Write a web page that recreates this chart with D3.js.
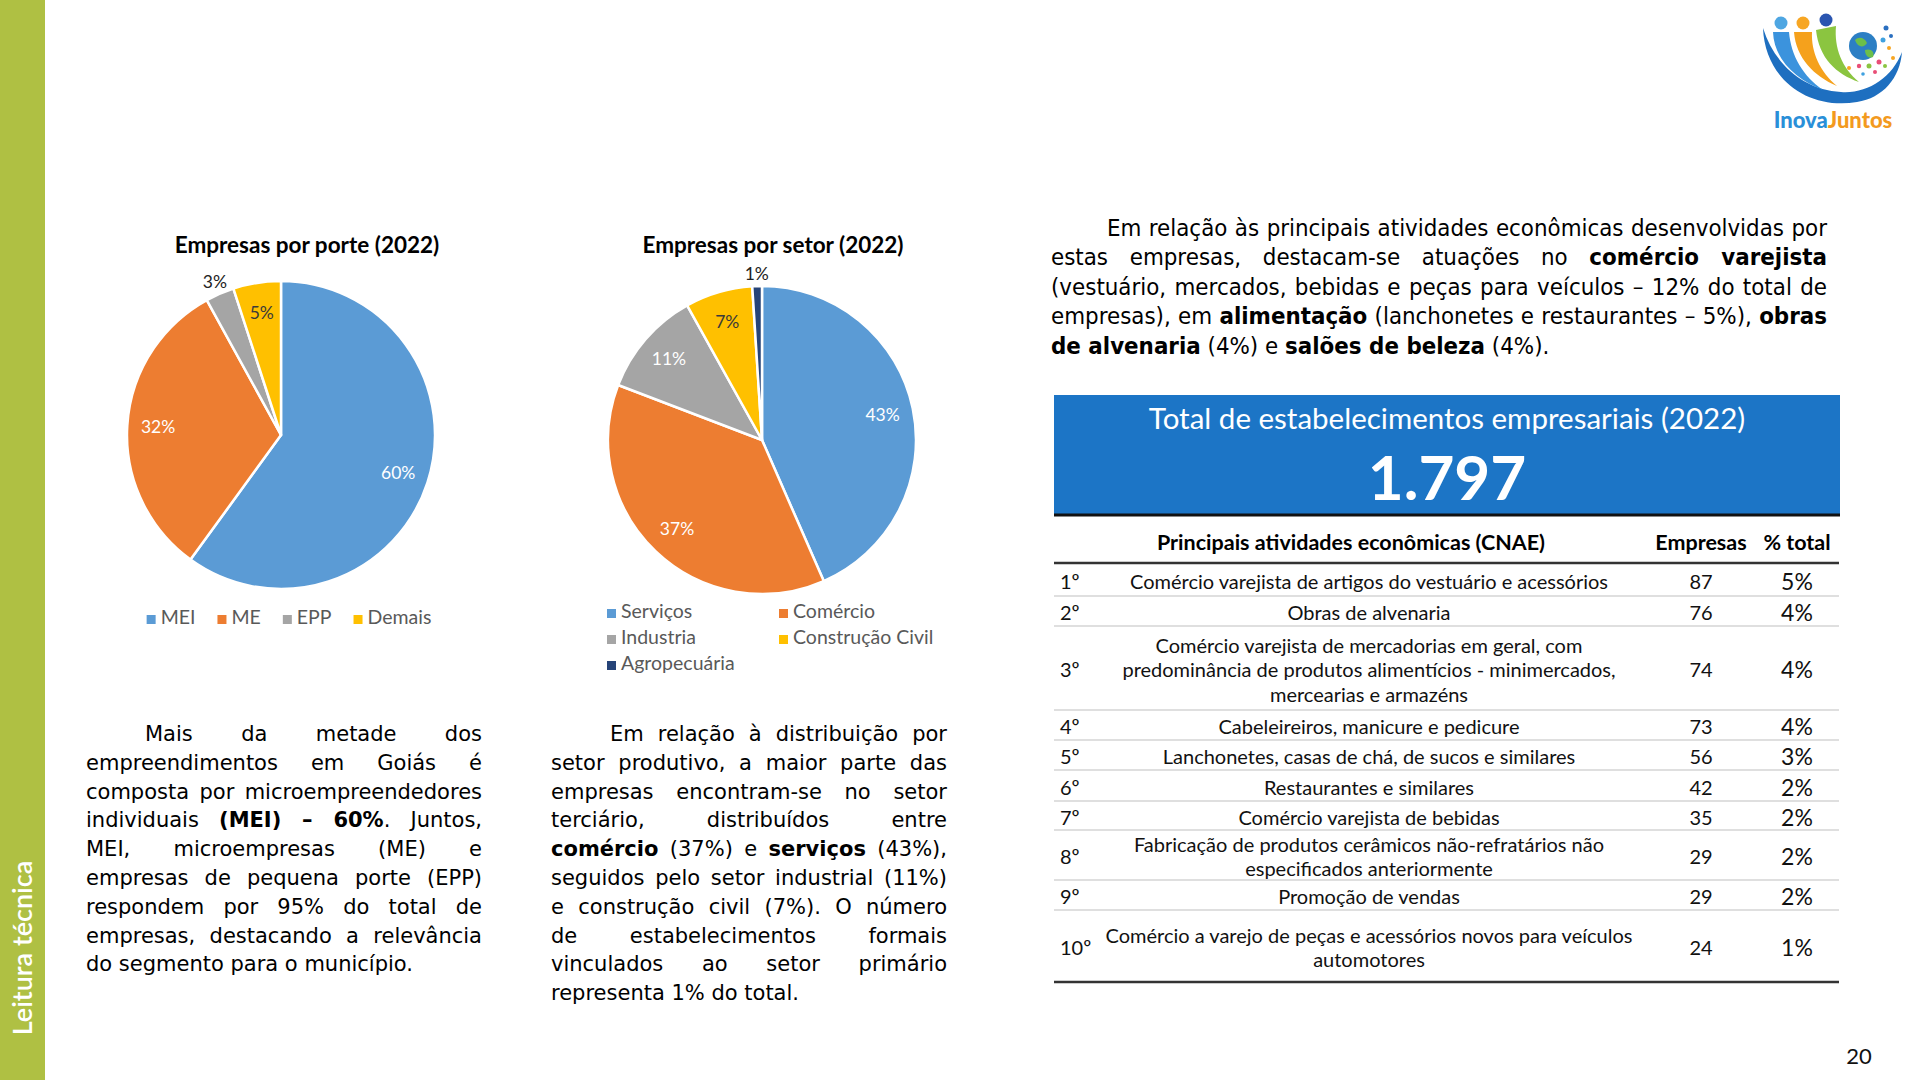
<!DOCTYPE html>
<html><head><meta charset="utf-8">
<script src="https://cdn.jsdelivr.net/npm/d3@7"></script>
<style>
html,body{margin:0;padding:0;background:#fff;}
#root{position:relative;width:1920px;height:1080px;overflow:hidden;background:#fff;}
svg{position:absolute;left:0;top:0;}
.para{position:absolute;color:#000;}
.para .ln{white-space:nowrap;text-align:justify;text-align-last:justify;}
.para .ln.last{text-align-last:left;text-align:left;}
.verd{font-family:"DejaVu Sans",Verdana,sans-serif;font-size:21px;line-height:28.8px;}
.cond{font-family:"DejaVu Sans",Verdana,sans-serif;font-size:23px;line-height:29.4px;}
</style></head><body><div id="root"></div>
<script>
// ---------------- DATA ----------------
const porteTitle = "Empresas por porte (2022)";
const porteCategories = ["MEI", "ME", "EPP", "Demais"];
const porteValues = [60, 32, 3, 5];

const setorTitle = "Empresas por setor (2022)";
const setorCategories = ["Serviços", "Comércio", "Industria", "Construção Civil", "Agropecuária"];
const setorValues = [43, 37, 11, 7, 1];

const totalTitle = "Total de estabelecimentos empresariais (2022)";
const totalValue = "1.797";

const tableHeaders = ["Principais atividades econômicas (CNAE)", "Empresas", "% total"];
const rankLabels = ["1º","2º","3º","4º","5º","6º","7º","8º","9º","10º"];
const activityLines = [
  ["Comércio varejista de artigos do vestuário e acessórios"],
  ["Obras de alvenaria"],
  ["Comércio varejista de mercadorias em geral, com","predominância de produtos alimentícios - minimercados,","mercearias e armazéns"],
  ["Cabeleireiros, manicure e pedicure"],
  ["Lanchonetes, casas de chá, de sucos e similares"],
  ["Restaurantes e similares"],
  ["Comércio varejista de bebidas"],
  ["Fabricação de produtos cerâmicos não-refratários não","especificados anteriormente"],
  ["Promoção de vendas"],
  ["Comércio a varejo de peças e acessórios novos para veículos","automotores"]
];
const empresasCounts = [87, 76, 74, 73, 56, 42, 35, 29, 29, 24];
const pctTotal = ["5%","4%","4%","4%","3%","2%","2%","2%","2%","1%"];

const para1Lines = [
  "Mais da metade dos",
  "empreendimentos em Goiás é",
  "composta por microempreendedores",
  "individuais <b>(MEI) – 60%</b>. Juntos,",
  "MEI, microempresas (ME) e",
  "empresas de pequena porte (EPP)",
  "respondem por 95% do total de",
  "empresas, destacando a relevância",
  "do segmento para o município."
];
const para2Lines = [
  "Em relação à distribuição por",
  "setor produtivo, a maior parte das",
  "empresas encontram-se no setor",
  "terciário, distribuídos entre",
  "<b>comércio</b> (37%) e <b>serviços</b> (43%),",
  "seguidos pelo setor industrial (11%)",
  "e construção civil (7%). O número",
  "de estabelecimentos formais",
  "vinculados ao setor primário",
  "representa 1% do total."
];
const para3Lines = [
  "Em relação às principais atividades econômicas desenvolvidas por",
  "estas empresas, destacam-se atuações no <b>comércio varejista</b>",
  "(vestuário, mercados, bebidas e peças para veículos – 12% do total de",
  "empresas), em <b>alimentação</b> (lanchonetes e restaurantes – 5%), <b>obras</b>",
  "<b>de alvenaria</b> (4%) e <b>salões de beleza</b> (4%)."
];
const sideLabel = "Leitura técnica";
const pageNumber = "20";

// ---------------- LAYOUT / STYLE ----------------
const W = 1920, H = 1080;
const pieColors = ["#5b9bd5", "#ed7d31", "#a5a5a5", "#ffc000", "#264478"];
const rowHeights = [33, 30, 84, 30, 30, 31, 29, 50, 30, 72];

const root = d3.select("#root");
const svg = root.append("svg").attr("width", W).attr("height", H);

// side bar
svg.append("rect").attr("x", 0).attr("y", 0).attr("width", 45).attr("height", H).attr("fill", "#afc043");
svg.append("text").attr("transform", "translate(32,948) rotate(-90)")
  .attr("text-anchor", "middle").attr("fill", "#fff")
  .style("font-family", "Lato, sans-serif").style("font-size", "27px").style("font-weight", "600")
  .text(sideLabel);

// page number
svg.append("text").attr("x", 1859).attr("y", 1064).attr("text-anchor", "middle")
  .style("font-family", "Lato, sans-serif").style("font-size", "22px").attr("fill", "#111")
  .text(pageNumber);

// ---------------- PIES ----------------
function drawPie(cfg) {
  const color = d3.scaleOrdinal().domain(cfg.cats).range(pieColors);
  svg.append("text").attr("x", cfg.titleX).attr("y", cfg.titleY).attr("text-anchor", "middle")
    .style("font-family", "Lato, sans-serif").style("font-weight", "700").style("font-size", "22.5px")
    .attr("fill", "#000").text(cfg.title);
  const g = svg.append("g").attr("transform", `translate(${cfg.cx},${cfg.cy})`);
  const data = cfg.cats.map((c, i) => ({ c, v: cfg.vals[i] }));
  const arcs = d3.pie().sort(null).value(d => d.v)(data);
  const arc = d3.arc().innerRadius(0).outerRadius(cfg.r);
  g.selectAll("path").data(arcs).join("path")
    .attr("d", arc).attr("fill", d => color(d.data.c))
    .attr("stroke", "#fff").attr("stroke-width", 2.5).attr("stroke-linejoin", "round");
  const inArc = d3.arc().innerRadius(cfg.r * 0.8).outerRadius(cfg.r * 0.8);
  const outArc = d3.arc().innerRadius(cfg.r * 1.08).outerRadius(cfg.r * 1.08);
  g.selectAll("text.lbl").data(arcs).join("text").attr("class", "lbl")
    .attr("transform", d => {
      const p = (d.data.v < 4 ? outArc : inArc).centroid(d);
      return `translate(${p[0]},${p[1] + 6})`;
    })
    .attr("text-anchor", "middle")
    .style("font-family", "Lato, sans-serif").style("font-size", "17.5px")
    .attr("fill", d => d.data.v < 4 ? "#222" : (color(d.data.c) === "#ffc000" ? "#3a3a3a" : "#fff"))
    .text(d => d.data.v + "%");
  return color;
}

const c1 = drawPie({ cats: porteCategories, vals: porteValues, cx: 281, cy: 435, r: 154,
  title: porteTitle, titleX: 307, titleY: 253 });
const c2 = drawPie({ cats: setorCategories, vals: setorValues, cx: 762, cy: 440, r: 154,
  title: setorTitle, titleX: 773, titleY: 253 });

// legend 1 (single row, centered)
(function () {
  const g = svg.append("g");
  const items = g.selectAll("g").data(porteCategories).join("g");
  items.append("rect").attr("width", 9).attr("height", 9).attr("y", -9).attr("fill", d => c1(d));
  items.append("text").attr("x", 14).attr("y", 0)
    .style("font-family", "Lato, sans-serif").style("font-size", "19.5px").attr("fill", "#595959").text(d => d);
  let x = 0; const xs = [];
  items.each(function () { xs.push(x); x += 14 + this.querySelector("text").getComputedTextLength() + 22; });
  const total = x - 22, start = 289 - total / 2;
  items.attr("transform", (d, i) => `translate(${start + xs[i]},624)`);
})();

// legend 2 (two columns)
(function () {
  const colX = [607, 779], rowY = [618, 644, 670];
  const g = svg.append("g");
  const items = g.selectAll("g").data(setorCategories).join("g")
    .attr("transform", (d, i) => `translate(${colX[i % 2]},${rowY[Math.floor(i / 2)]})`);
  items.append("rect").attr("width", 9).attr("height", 9).attr("y", -9).attr("fill", d => c2(d));
  items.append("text").attr("x", 14).attr("y", 0)
    .style("font-family", "Lato, sans-serif").style("font-size", "19.5px").attr("fill", "#595959").text(d => d);
})();

// ---------------- TOTAL BOX ----------------
const bx = 1054, bw = 786, by = 395, bh = 120;
svg.append("rect").attr("x", bx).attr("y", by).attr("width", bw).attr("height", bh).attr("fill", "#1c75c6");
svg.append("line").attr("x1", bx).attr("x2", bx + bw).attr("y1", by + bh).attr("y2", by + bh)
  .attr("stroke", "#111").attr("stroke-width", 3);
svg.append("text").attr("x", bx + bw / 2).attr("y", 429).attr("text-anchor", "middle")
  .style("font-family", "Lato, sans-serif").style("font-size", "29.5px").attr("fill", "#fff").text(totalTitle);
svg.append("text").attr("x", bx + bw / 2).attr("y", 500).attr("text-anchor", "middle")
  .style("font-family", "Lato, sans-serif").style("font-weight", "700").style("font-size", "62px")
  .attr("fill", "#fff").text(totalValue);

// ---------------- TABLE ----------------
(function () {
  const tx0 = 1054, tx1 = 1839, top = 563;
  const colDesc = 1369, colEmp = 1701, colPct = 1797, colRank = 1060;
  const hdr = svg.append("g").style("font-family", "Lato, sans-serif").style("font-weight", "700").style("font-size", "21.5px");
  hdr.append("text").attr("x", colDesc - 18).attr("y", 550).attr("text-anchor", "middle").text(tableHeaders[0]);
  hdr.append("text").attr("x", colEmp).attr("y", 550).attr("text-anchor", "middle").text(tableHeaders[1]);
  hdr.append("text").attr("x", colPct).attr("y", 550).attr("text-anchor", "middle").text(tableHeaders[2]);

  const ys = [top];
  rowHeights.forEach(h => ys.push(ys[ys.length - 1] + h));
  const rows = svg.append("g").selectAll("g").data(rankLabels).join("g")
    .style("font-family", "Lato, sans-serif");
  rows.each(function (d, i) {
    const g = d3.select(this);
    const cy = (ys[i] + ys[i + 1]) / 2 + 2;
    g.append("text").attr("x", colRank).attr("y", cy + 7).style("font-size", "20px").attr("fill", "#111").text(d);
    const lines = activityLines[i], lh = 24.5;
    lines.forEach((t, k) => {
      g.append("text").attr("x", colDesc).attr("y", cy + 7 + (k - (lines.length - 1) / 2) * lh)
        .attr("text-anchor", "middle").style("font-size", "20px").attr("fill", "#111").text(t);
    });
    g.append("text").attr("x", colEmp).attr("y", cy + 7).attr("text-anchor", "middle")
      .style("font-size", "20px").attr("fill", "#111").text(empresasCounts[i]);
    g.append("text").attr("x", colPct).attr("y", cy + 8).attr("text-anchor", "middle")
      .style("font-size", "23px").attr("fill", "#111").text(pctTotal[i]);
    if (i < rankLabels.length - 1) {
      g.append("line").attr("x1", tx0).attr("x2", tx1).attr("y1", ys[i + 1]).attr("y2", ys[i + 1])
        .attr("stroke", "#d4d4d4").attr("stroke-width", 1.5);
    }
  });
  svg.append("line").attr("x1", tx0).attr("x2", tx1).attr("y1", top).attr("y2", top).attr("stroke", "#333").attr("stroke-width", 2.5);
  svg.append("line").attr("x1", tx0).attr("x2", tx1).attr("y1", ys[ys.length - 1]).attr("y2", ys[ys.length - 1]).attr("stroke", "#333").attr("stroke-width", 2.5);
})();

// ---------------- LOGO ----------------
(function () {
  const g = svg.append("g").attr("transform", "translate(1761,10)");
  g.append("path").attr("d", "M2,18 C4,70 48,100 96,92 C122,88 139,68 141,42 C131,68 106,84 80,82 C44,80 14,56 2,18 Z").attr("fill", "#1e6fc0");
  g.append("path").attr("d", "M12,22 C13,50 36,70 62,80 C42,66 30,46 28,22 Z").attr("fill", "#3b93dd");
  g.append("path").attr("d", "M33,22 C35,48 53,66 76,76 C59,62 50,42 51,22 Z").attr("fill", "#f5a11c");
  g.append("path").attr("d", "M55,20 C58,48 75,64 98,72 C81,58 73,38 75,16 Z").attr("fill", "#8bc540");
  g.append("circle").attr("cx", 20).attr("cy", 13).attr("r", 6.5).attr("fill", "#4ea6e2");
  g.append("circle").attr("cx", 42).attr("cy", 13).attr("r", 6.5).attr("fill", "#f7a623");
  g.append("circle").attr("cx", 65).attr("cy", 10).attr("r", 6.5).attr("fill", "#2a55b0");
  g.append("circle").attr("cx", 102).attr("cy", 36).attr("r", 14).attr("fill", "#2c7fc4");
  g.append("path").attr("d", "M94,30 C98,26 104,28 106,33 C103,38 97,38 94,30 Z").attr("fill", "#6cbf4a");
  g.append("path").attr("d", "M104,40 C110,38 114,42 112,47 C108,49 104,46 104,40 Z").attr("fill", "#6cbf4a");
  const dots = [[125,18,2.5,"#2a6fc0"],[130,26,2,"#2a6fc0"],[122,30,2.5,"#3fa1e0"],[128,38,2,"#f7a623"],[118,52,2.5,"#e94e77"],[108,56,2.5,"#8bc540"],[98,56,2.2,"#e94e77"],[88,58,2,"#f7a623"],[124,56,2,"#8bc540"],[114,62,2,"#e94e77"],[102,64,1.8,"#3fa1e0"],[132,48,2,"#f7a623"]];
  g.selectAll("circle.dot").data(dots).join("circle").attr("class", "dot")
    .attr("cx", d => d[0]).attr("cy", d => d[1]).attr("r", d => d[2]).attr("fill", d => d[3]);
  const t = g.append("text").attr("x", 72).attr("y", 118).attr("text-anchor", "middle")
    .style("font-family", "Lato, sans-serif").style("font-weight", "900").style("font-size", "22px");
  t.append("tspan").attr("fill", "#2a8fd8").text("Inova");
  t.append("tspan").attr("fill", "#f39a1e").text("Juntos");
})();

// ---------------- PARAGRAPHS ----------------
function para(lines, cls, left, top, width, indent, condense) {
  const d = root.append("div").attr("class", "para " + cls)
    .style("left", left + "px").style("top", top + "px").style("width", width + "px");
  const lns = d.selectAll("div").data(lines).join("div")
    .attr("class", (t, i) => "ln" + (i === lines.length - 1 ? " last" : ""))
    .style("padding-left", (t, i) => i === 0 ? indent + "px" : "0px")
    .html(t => t);
  // natural widths
  const nat = [];
  lns.each(function (t, i) {
    const r = document.createRange(); r.selectNodeContents(this);
    nat.push(r.getBoundingClientRect().width + (i === 0 ? indent : 0));
  });
  if (condense) {
    const maxW = d3.max(nat.slice(0, -1));
    const k = Math.min(1, width / maxW) * 0.995;
    d.style("width", (width / k) + "px").style("transform-origin", "left top").style("transform", `scaleX(${k.toFixed(4)})`);
  } else {
    lns.each(function (t, i) {
      const avail = width;
      if (nat[i] > avail + 1) {
        this.style.transformOrigin = "left center";
        this.style.width = nat[i] + "px";
        this.style.transform = `scaleX(${(avail / nat[i]).toFixed(4)})`;
      }
    });
  }
}
para(para1Lines, "verd", 86, 720, 396, 59, false);
para(para2Lines, "verd", 551, 720, 396, 59, false);
para(para3Lines, "cond", 1051, 214, 776, 60, true);
</script></body></html>
